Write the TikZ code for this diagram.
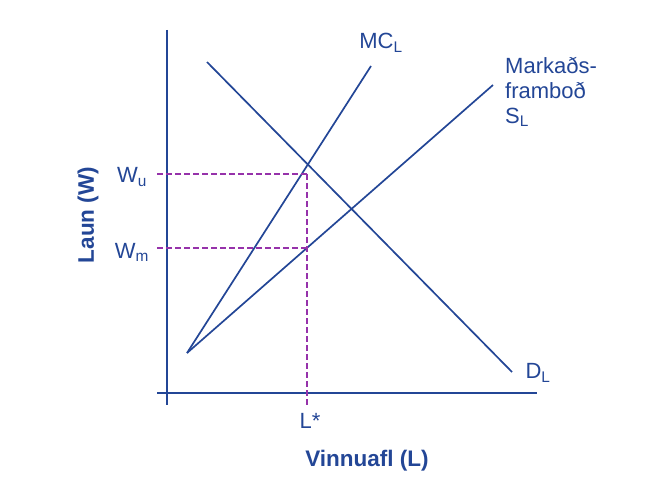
\documentclass[tikz,border=0pt]{standalone}
\usepackage{fontspec}
\setmainfont{Liberation Sans}
\definecolor{linublue}{RGB}{35,70,150}
\definecolor{dashpurple}{RGB}{150,50,170}
\begin{document}
\begin{tikzpicture}[x=1pt,y=-1pt,
    curve/.style={linublue,line width=1.7pt},
    guide/.style={dashpurple,line width=1.4pt,dash pattern=on 6pt off 3pt},
    lbl/.style={text=linublue,font=\fontsize{22}{25}\selectfont,inner sep=1pt},
    axlbl/.style={text=linublue,font=\fontsize{22.5}{26}\selectfont\bfseries}]
\useasboundingbox (0,0) rectangle (650,481);

% Ásar
\coordinate (ytop) at (167,30);
\coordinate (ybot) at (167,405);
\coordinate (xleft) at (157,393);
\coordinate (xright) at (537,393);
\draw[curve] (ytop) -- (ybot);
\draw[curve] (xleft) -- (xright);

% Ferlar
\coordinate (origin) at (187,353);
\coordinate (dtop) at (207,62);
\coordinate (dend) at (512,372);
\coordinate (mcend) at (371,66);
\coordinate (send) at (493,85);
\draw[curve] (dtop) -- (dend);
\draw[curve] (origin) -- (mcend);
\draw[curve] (origin) -- (send);

% Hjálparlínur
\coordinate (wu) at (157,174);
\coordinate (wm) at (157,248);
\coordinate (top) at (307,174);
\coordinate (mid) at (307,248);
\coordinate (lstar) at (307,405);
\draw[guide] (wu) -- (top);
\draw[guide] (wm) -- (mid);
\draw[guide] (top) -- (lstar);

% Merkingar
\node[lbl] (wulbl) at (132,177) {W\textsubscript{u}};
\node[lbl] (wmlbl) at (132,252) {W\textsubscript{m}};
\node[lbl] (llbl) at (310,421) {L*};
\node[lbl] (mclbl) at (381,43) {MC\textsubscript{L}};
\node[lbl,align=left,anchor=north west] (slbl) at (504,56) {Markaðs-\\framboð\\S\textsubscript{L}};
\node[lbl] (dlbl) at (538,373) {D\textsubscript{L}};
\node[axlbl] (xlbl) at (367,461) {Vinnuafl (L)};
\node[axlbl,rotate=90] (ylbl) at (88,215) {Laun (W)};
\end{tikzpicture}
\end{document}
